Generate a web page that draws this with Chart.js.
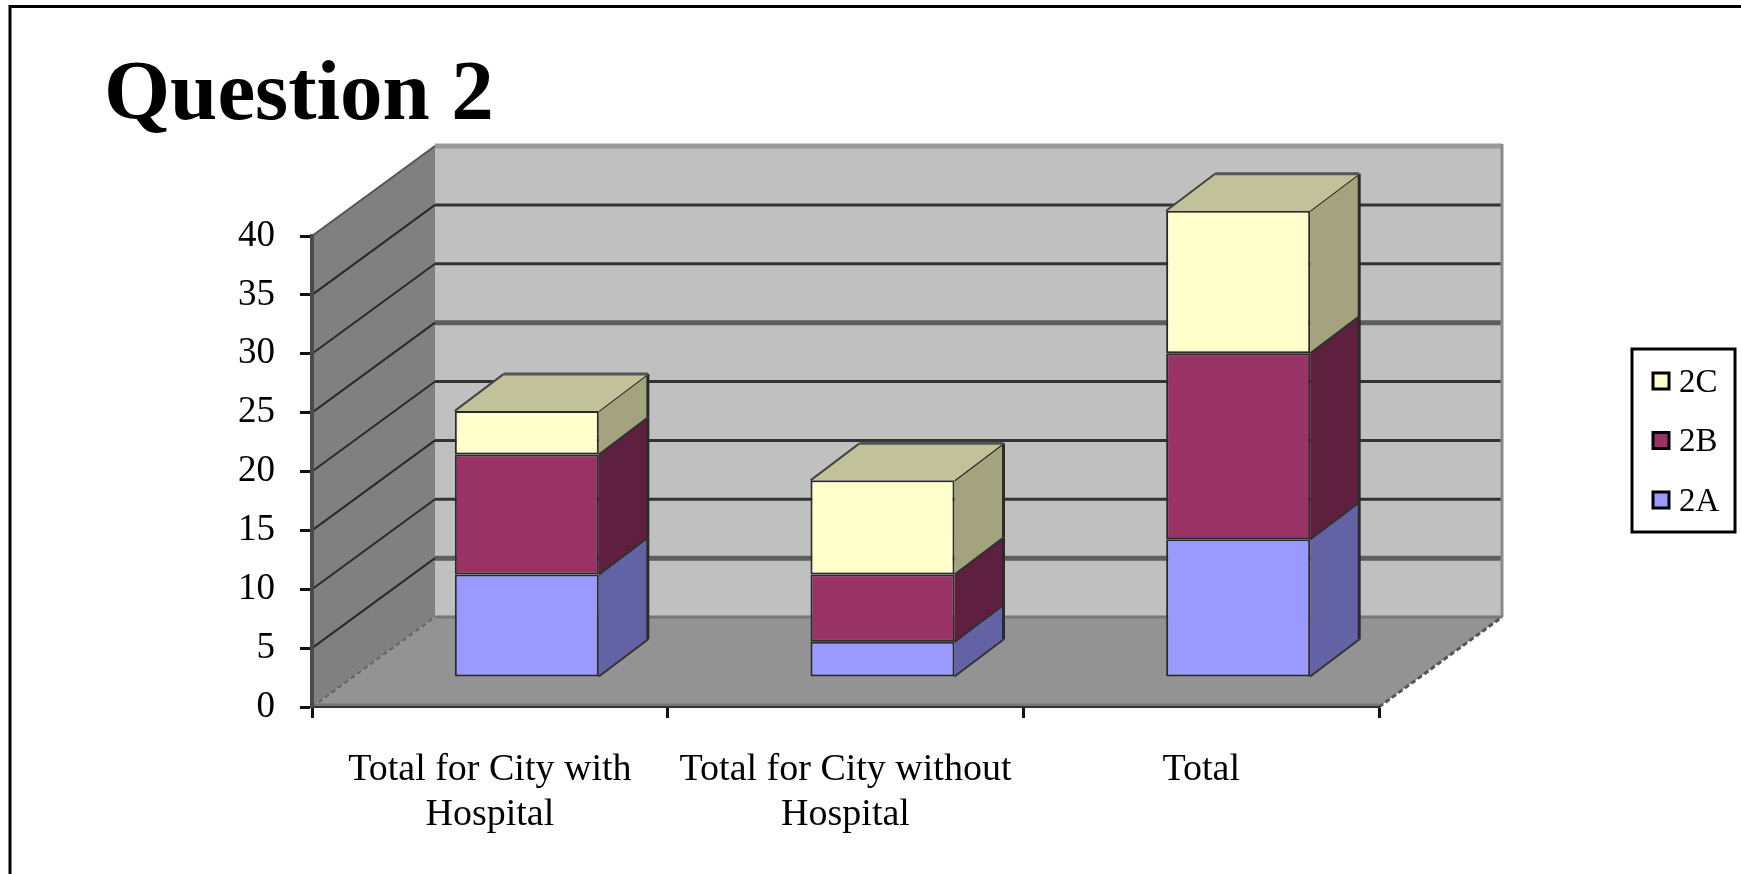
<!DOCTYPE html>
<html>
<head>
<meta charset="utf-8">
<title>Question 2</title>
<script src="https://cdn.jsdelivr.net/npm/chart.js@4"></script>
<style>
    html, body { margin: 0; padding: 0; background: #fff; overflow: hidden; }
    canvas { display: block; }
</style>
</head>
<body>
<canvas id="question-chart" width="1741" height="874"></canvas>
<script>
const categories = [
    ['Total for City with', 'Hospital'],
    ['Total for City without', 'Hospital'],
    'Total',
];
const values2A = [8.7, 3, 11.7];
const values2B = [10.2, 5.7, 15.8];
const values2C = [3.7, 8, 12.1];

const serif = "'Liberation Serif', 'Times New Roman', serif";

// depth of the box the bars stand in, and of the bars themselves
const wallDepth = { x: 123, y: 90 };
const barShift = { x: 37, y: 30 };
const barDepth = { x: 49, y: 37 };

function fillPoly(ctx, points, fill) {
    ctx.beginPath();
    points.forEach(([x, y], i) => (i ? ctx.lineTo(x, y) : ctx.moveTo(x, y)));
    ctx.closePath();
    ctx.fillStyle = fill;
    ctx.fill();
}

function strokeLine(ctx, x1, y1, x2, y2, color, width, dash) {
    ctx.beginPath();
    ctx.setLineDash(dash || []);
    ctx.moveTo(x1, y1);
    ctx.lineTo(x2, y2);
    ctx.strokeStyle = color;
    ctx.lineWidth = width;
    ctx.stroke();
    ctx.setLineDash([]);
}

// NOTE slide frame, walls, floor and the gridlines behind the bars
const wallsPlugin = {
    id: 'walls',
    beforeDraw(chart) {
        const { ctx, chartArea: a, scales } = chart;
        const dx = wallDepth.x;
        const dy = wallDepth.y;

        ctx.save();
        strokeLine(ctx, 10, 6.5, 1741, 6.5, '#000', 3);
        strokeLine(ctx, 10, 5, 10, 874, '#000', 3);

        fillPoly(ctx, [[a.left + dx, a.top - dy], [a.right + dx, a.top - dy], [a.right + dx, a.bottom - dy], [a.left + dx, a.bottom - dy]], '#c0c0c0');
        fillPoly(ctx, [[a.left, a.top], [a.left + dx, a.top - dy], [a.left + dx, a.bottom - dy], [a.left, a.bottom]], '#808080');
        fillPoly(ctx, [[a.left, a.bottom], [a.right, a.bottom], [a.right + dx, a.bottom - dy], [a.left + dx, a.bottom - dy]], '#939393');

        scales.y.ticks.forEach((tick) => {
            const p = scales.y.getPixelForValue(tick.value);
            if (tick.value === 0) return;
            if (tick.value === 40) {
                strokeLine(ctx, a.left + dx, p - dy, a.right + dx, p - dy, '#999', 5);
                strokeLine(ctx, a.left, p, a.left + dx, p - dy, '#555', 2);
                return;
            }
            const thick = tick.value === 25 || tick.value === 5;
            strokeLine(ctx, a.left + dx, p - dy, a.right + dx, p - dy, thick ? '#5e5e5e' : '#333', thick ? 5 : 3);
            strokeLine(ctx, a.left, p, a.left + dx, p - dy, '#2a2a2a', 2);
        });

        strokeLine(ctx, a.left + dx, a.bottom - dy, a.right + dx, a.bottom - dy, '#777', 3);
        strokeLine(ctx, a.right + dx, a.top - dy - 2, a.right + dx, a.bottom - dy, '#8a8a8a', 3);
        strokeLine(ctx, a.left, a.bottom, a.left + dx, a.bottom - dy, '#666', 2, [5, 3]);
        strokeLine(ctx, a.right, a.bottom, a.right + dx, a.bottom - dy, '#555', 3, [5, 3]);
        strokeLine(ctx, a.left, a.bottom - 2, a.right, a.bottom - 2, '#777', 3);
        ctx.restore();
    },
    // TODO shading colors are by eye
    beforeDatasetsDraw(chart) {
        chart.ctx.save();
        chart.ctx.translate(barShift.x, -barShift.y);
    },
    afterDatasetsDraw(chart) {
        const { ctx } = chart;
        const last = chart.data.datasets.length - 1;

        chart.data.datasets.forEach((ds, i) => {
            chart.getDatasetMeta(i).data.forEach((bar) => {
                const r = bar.x + bar.width / 2;
                const l = bar.x - bar.width / 2;
                const dx = barDepth.x;
                const dy = barDepth.y;

                fillPoly(ctx, [[r, bar.y], [r + dx, bar.y - dy], [r + dx, bar.base - dy], [r, bar.base]], ds.sideColor);
                strokeLine(ctx, r, bar.y, r + dx, bar.y - dy, '#222', 2);
                strokeLine(ctx, r + dx, bar.y - dy, r + dx, bar.base - dy, '#2a2a2a', 3);
                strokeLine(ctx, r, bar.base, r + dx, bar.base - dy, '#333', 2);

                if (i === last) {
                    fillPoly(ctx, [[l, bar.y], [l + dx, bar.y - dy], [r + dx, bar.y - dy], [r, bar.y]], ds.topColor);
                    strokeLine(ctx, l, bar.y, l + dx, bar.y - dy, '#444', 2);
                    strokeLine(ctx, l + dx, bar.y - dy, r + dx, bar.y - dy, '#555', 3);
                }
            });
        });
        ctx.restore();
    },
};

// legend box on the right, newest series first
const legendPlugin = {
    id: 'boxLegend',
    afterDraw(chart) {
        const { ctx } = chart;
        const rows = chart.data.datasets.slice().reverse();

        ctx.save();
        ctx.lineWidth = 3;
        ctx.strokeStyle = '#000';
        ctx.fillStyle = '#fff';
        ctx.fillRect(1632, 349, 103, 183);
        ctx.strokeRect(1632, 349, 103, 183);

        ctx.font = `33px ${serif}`;
        ctx.textBaseline = 'middle';
        rows.forEach((ds, i) => {
            const y = 381 + i * 59.5;
            ctx.fillStyle = ds.backgroundColor;
            ctx.fillRect(1653, y - 8, 16, 16);
            ctx.strokeRect(1653, y - 8, 16, 16);
            ctx.fillStyle = '#000';
            ctx.fillText(ds.label, 1679, y + 2);
        });
        ctx.restore();
    },
};

Chart.defaults.font.family = serif;
Chart.defaults.color = '#000';

new Chart(document.getElementById('question-chart'), {
    type: 'bar',
    data: {
        labels: categories,
        datasets: [
            { label: '2A', data: values2A, backgroundColor: '#9999ff', sideColor: '#6262a4' },
            { label: '2B', data: values2B, backgroundColor: '#993366', sideColor: '#5f1f3f' },
            { label: '2C', data: values2C, backgroundColor: '#ffffcc', sideColor: '#a3a37f', topColor: '#c2c29a' },
        ],
    },
    options: {
        responsive: false,
        animation: false,
        layout: {
            autoPadding: false,
            padding: { left: 104, right: 362 },
        },
        datasets: {
            bar: {
                clip: false,
                barPercentage: 0.405,
                categoryPercentage: 1,
                borderWidth: 2,
                borderColor: '#2a2a2a',
                borderSkipped: false,
            },
        },
        plugins: {
            legend: { display: false },
            tooltip: { enabled: false },
            title: {
                display: true,
                text: 'Question 2',
                align: 'start',
                color: '#000',
                font: { size: 85, weight: 'bold', lineHeight: 1.2 },
                padding: { top: 46, bottom: 88 },
            },
        },
        scales: {
            x: {
                stacked: true,
                afterFit: (scale) => { scale.height = 167; },
                border: { color: '#333', width: 2 },
                grid: { drawOnChartArea: false, tickLength: 11, tickWidth: 3, tickColor: '#111' },
                ticks: { font: { size: 38, lineHeight: 1.2 }, padding: 29, maxRotation: 0, autoSkip: false },
            },
            y: {
                stacked: true,
                min: 0,
                max: 40,
                afterFit: (scale) => { scale.width = 208; },
                border: { color: '#4a4a4a', width: 4 },
                grid: { drawOnChartArea: false, tickLength: 12, tickWidth: 3, tickColor: '#111' },
                ticks: { stepSize: 5, font: { size: 37 }, padding: 25 },
            },
        },
    },
    plugins: [wallsPlugin, legendPlugin],
});
</script>
</body>
</html>
